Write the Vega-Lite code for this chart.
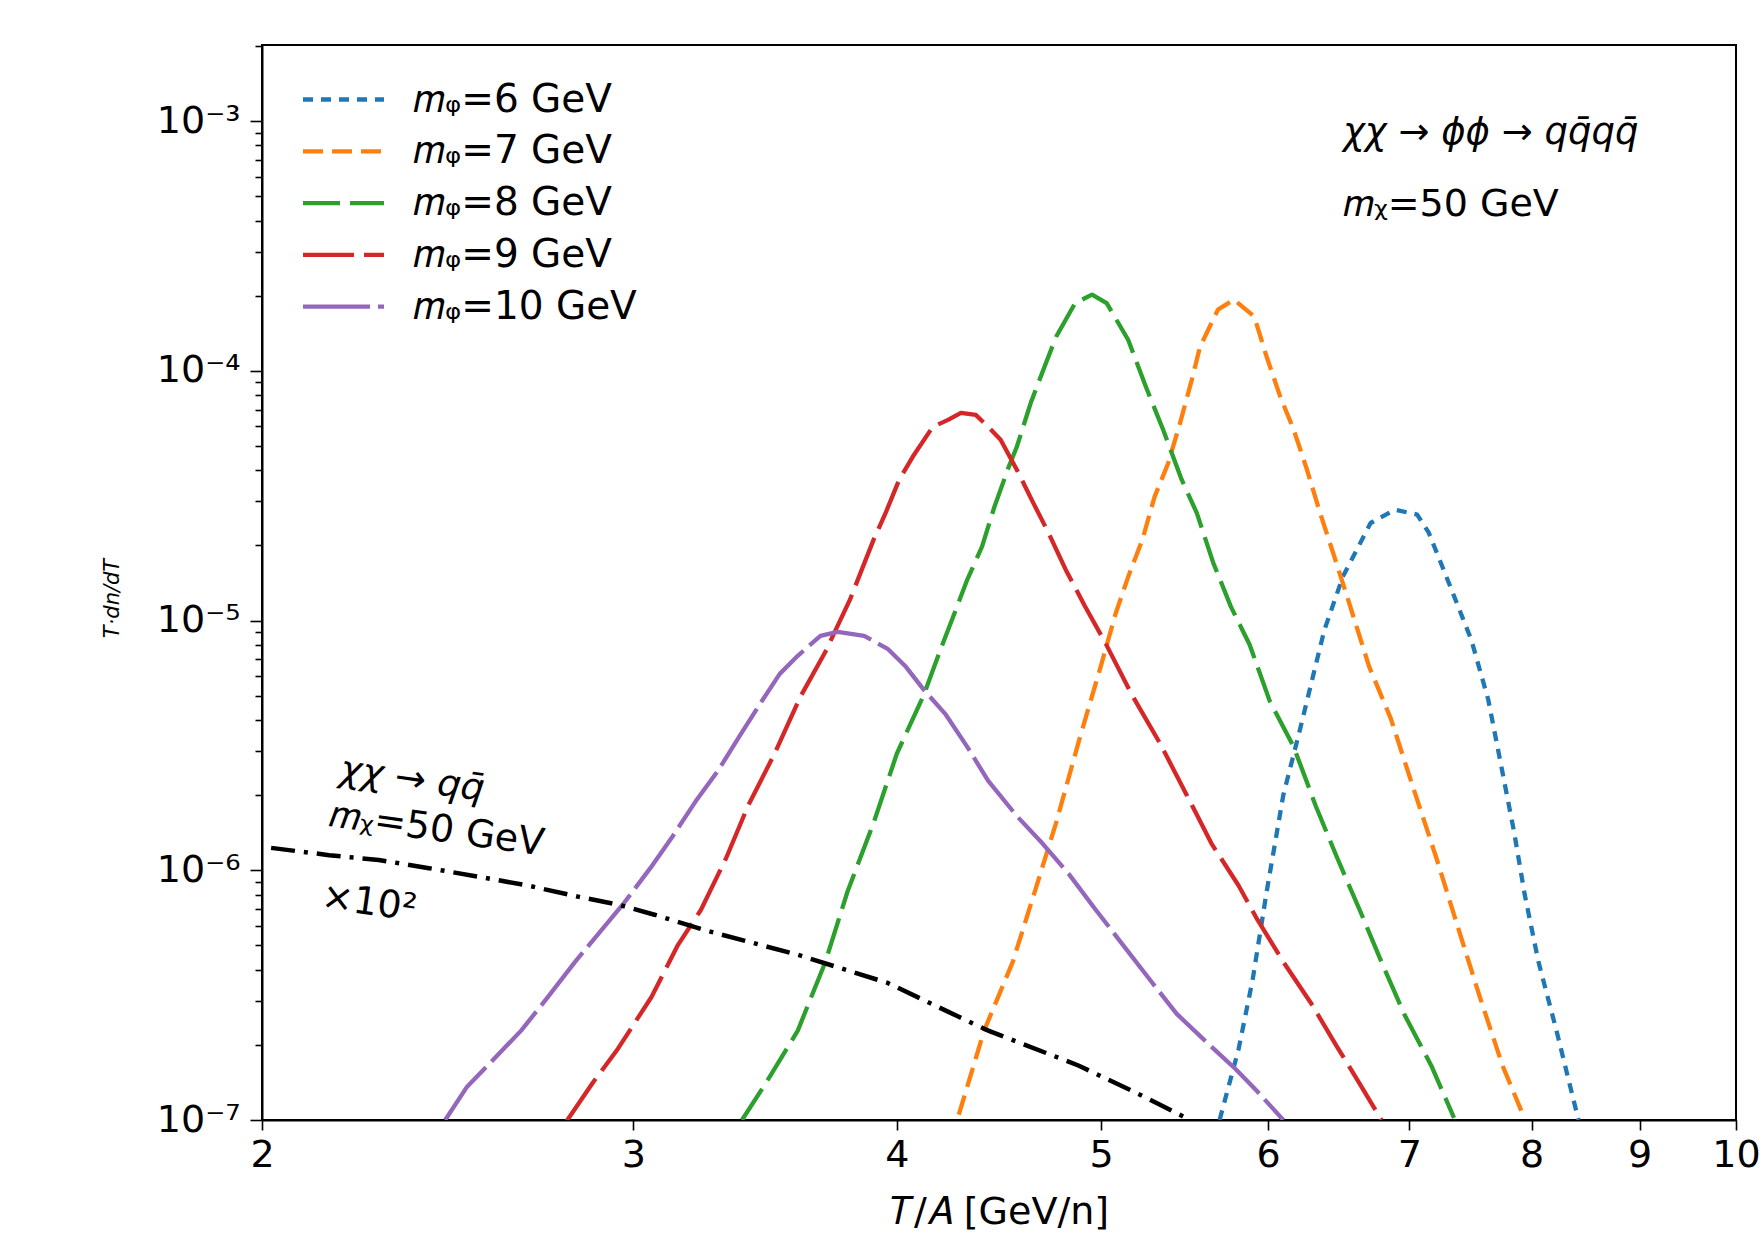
{
  "$schema": "https://vega.github.io/schema/vega-lite/v6.json",
  "width": 1474,
  "height": 1075,
  "autosize": "none",
  "padding": {"left": 262, "top": 45, "right": 26, "bottom": 121},
  "background": "white",
  "config": {
    "font": "DejaVu Sans",
    "view": {"stroke": "black", "strokeWidth": 2},
    "axis": {"domainColor": "black", "domainWidth": 2, "tickColor": "black", "tickWidth": 1.6, "labelColor": "black", "titleColor": "black", "grid": false, "labelFont": "DejaVu Sans", "titleFont": "DejaVu Sans", "titleFontWeight": "normal"}
  },
  "datasets": {
    "curves": [
      {"series": "6", "T": 5.69, "v": 1.0e-7}, {"series": "6", "T": 5.81, "v": 1.93e-7}, {"series": "6", "T": 5.90, "v": 3.67e-7}, {"series": "6", "T": 5.99, "v": 8.2e-7}, {"series": "6", "T": 6.10, "v": 2.0e-6}, {"series": "6", "T": 6.21, "v": 3.62e-6}, {"series": "6", "T": 6.29, "v": 5.64e-6}, {"series": "6", "T": 6.38, "v": 9.18e-6}, {"series": "6", "T": 6.51, "v": 1.5e-5}, {"series": "6", "T": 6.71, "v": 2.46e-5}, {"series": "6", "T": 6.89, "v": 2.78e-5}, {"series": "6", "T": 7.06, "v": 2.66e-5}, {"series": "6", "T": 7.15, "v": 2.25e-5}, {"series": "6", "T": 7.32, "v": 1.37e-5}, {"series": "6", "T": 7.49, "v": 8.38e-6}, {"series": "6", "T": 7.63, "v": 4.82e-6}, {"series": "6", "T": 7.74, "v": 2.6e-6}, {"series": "6", "T": 7.85, "v": 1.41e-6}, {"series": "6", "T": 7.94, "v": 7.98e-7}, {"series": "6", "T": 8.06, "v": 4.3e-7}, {"series": "6", "T": 8.22, "v": 2.28e-7}, {"series": "6", "T": 8.42, "v": 1.0e-7},
      {"series": "7", "T": 4.28, "v": 1.05e-7}, {"series": "7", "T": 4.40, "v": 2.28e-7}, {"series": "7", "T": 4.54, "v": 4.3e-7}, {"series": "7", "T": 4.65, "v": 8.2e-7}, {"series": "7", "T": 4.76, "v": 1.55e-6}, {"series": "7", "T": 4.88, "v": 3.3e-6}, {"series": "7", "T": 5.00, "v": 6.65e-6}, {"series": "7", "T": 5.08, "v": 1.07e-5}, {"series": "7", "T": 5.15, "v": 1.5e-5}, {"series": "7", "T": 5.23, "v": 2.11e-5}, {"series": "7", "T": 5.30, "v": 3.13e-5}, {"series": "7", "T": 5.38, "v": 4.28e-5}, {"series": "7", "T": 5.45, "v": 6.2e-5}, {"series": "7", "T": 5.52, "v": 9.21e-5}, {"series": "7", "T": 5.57, "v": 1.25e-4}, {"series": "7", "T": 5.68, "v": 1.76e-4}, {"series": "7", "T": 5.78, "v": 1.93e-4}, {"series": "7", "T": 5.91, "v": 1.65e-4}, {"series": "7", "T": 5.99, "v": 1.14e-4}, {"series": "7", "T": 6.08, "v": 7.87e-5}, {"series": "7", "T": 6.17, "v": 5.81e-5}, {"series": "7", "T": 6.26, "v": 4.02e-5}, {"series": "7", "T": 6.35, "v": 2.7e-5}, {"series": "7", "T": 6.45, "v": 1.8e-5}, {"series": "7", "T": 6.54, "v": 1.25e-5}, {"series": "7", "T": 6.70, "v": 6.53e-6}, {"series": "7", "T": 6.86, "v": 4.05e-6}, {"series": "7", "T": 7.03, "v": 2.14e-6}, {"series": "7", "T": 7.21, "v": 1.12e-6}, {"series": "7", "T": 7.38, "v": 5.94e-7}, {"series": "7", "T": 7.56, "v": 3.11e-7}, {"series": "7", "T": 7.75, "v": 1.65e-7}, {"series": "7", "T": 7.91, "v": 1.09e-7},
      {"series": "8", "T": 3.378, "v": 1.0e-7}, {"series": "8", "T": 3.468, "v": 1.41e-7}, {"series": "8", "T": 3.59, "v": 2.28e-7}, {"series": "8", "T": 3.70, "v": 4.3e-7}, {"series": "8", "T": 3.79, "v": 8.2e-7}, {"series": "8", "T": 3.90, "v": 1.55e-6}, {"series": "8", "T": 4.00, "v": 2.93e-6}, {"series": "8", "T": 4.12, "v": 5.05e-6}, {"series": "8", "T": 4.20, "v": 7.85e-6}, {"series": "8", "T": 4.26, "v": 1.07e-5}, {"series": "8", "T": 4.32, "v": 1.46e-5}, {"series": "8", "T": 4.39, "v": 1.98e-5}, {"series": "8", "T": 4.45, "v": 2.86e-5}, {"series": "8", "T": 4.52, "v": 4.13e-5}, {"series": "8", "T": 4.56, "v": 4.97e-5}, {"series": "8", "T": 4.63, "v": 7.45e-5}, {"series": "8", "T": 4.70, "v": 1.04e-4}, {"series": "8", "T": 4.76, "v": 1.37e-4}, {"series": "8", "T": 4.86, "v": 1.87e-4}, {"series": "8", "T": 4.95, "v": 2.02e-4}, {"series": "8", "T": 5.03, "v": 1.87e-4}, {"series": "8", "T": 5.15, "v": 1.33e-4}, {"series": "8", "T": 5.25, "v": 8.64e-5}, {"series": "8", "T": 5.35, "v": 5.81e-5}, {"series": "8", "T": 5.46, "v": 3.66e-5}, {"series": "8", "T": 5.55, "v": 2.7e-5}, {"series": "8", "T": 5.65, "v": 1.71e-5}, {"series": "8", "T": 5.76, "v": 1.14e-5}, {"series": "8", "T": 5.88, "v": 8.0e-6}, {"series": "8", "T": 6.01, "v": 4.77e-6}, {"series": "8", "T": 6.17, "v": 3.12e-6}, {"series": "8", "T": 6.32, "v": 1.81e-6}, {"series": "8", "T": 6.47, "v": 1.12e-6}, {"series": "8", "T": 6.63, "v": 6.95e-7}, {"series": "8", "T": 6.79, "v": 4.3e-7}, {"series": "8", "T": 6.96, "v": 2.66e-7}, {"series": "8", "T": 7.17, "v": 1.65e-7}, {"series": "8", "T": 7.35, "v": 1.02e-7},
      {"series": "9", "T": 2.79, "v": 9.93e-8}, {"series": "9", "T": 2.87, "v": 1.41e-7}, {"series": "9", "T": 2.95, "v": 1.93e-7}, {"series": "9", "T": 3.06, "v": 3.11e-7}, {"series": "9", "T": 3.15, "v": 5.03e-7}, {"series": "9", "T": 3.23, "v": 6.95e-7}, {"series": "9", "T": 3.32, "v": 1.12e-6}, {"series": "9", "T": 3.40, "v": 1.81e-6}, {"series": "9", "T": 3.50, "v": 2.93e-6}, {"series": "9", "T": 3.60, "v": 4.95e-6}, {"series": "9", "T": 3.70, "v": 7.5e-6}, {"series": "9", "T": 3.80, "v": 1.21e-5}, {"series": "9", "T": 3.90, "v": 2.11e-5}, {"series": "9", "T": 3.95, "v": 2.68e-5}, {"series": "9", "T": 4.01, "v": 3.66e-5}, {"series": "9", "T": 4.07, "v": 4.53e-5}, {"series": "9", "T": 4.16, "v": 5.97e-5}, {"series": "9", "T": 4.23, "v": 6.37e-5}, {"series": "9", "T": 4.29, "v": 6.79e-5}, {"series": "9", "T": 4.36, "v": 6.67e-5}, {"series": "9", "T": 4.42, "v": 5.97e-5}, {"series": "9", "T": 4.48, "v": 5.3e-5}, {"series": "9", "T": 4.56, "v": 4.02e-5}, {"series": "9", "T": 4.64, "v": 2.99e-5}, {"series": "9", "T": 4.72, "v": 2.25e-5}, {"series": "9", "T": 4.81, "v": 1.6e-5}, {"series": "9", "T": 4.91, "v": 1.15e-5}, {"series": "9", "T": 5.02, "v": 8.22e-6}, {"series": "9", "T": 5.17, "v": 5.05e-6}, {"series": "9", "T": 5.33, "v": 3.24e-6}, {"series": "9", "T": 5.49, "v": 2.0e-6}, {"series": "9", "T": 5.64, "v": 1.28e-6}, {"series": "9", "T": 5.81, "v": 8.67e-7}, {"series": "9", "T": 5.93, "v": 6.34e-7}, {"series": "9", "T": 6.10, "v": 4.3e-7}, {"series": "9", "T": 6.29, "v": 2.92e-7}, {"series": "9", "T": 6.47, "v": 1.96e-7}, {"series": "9", "T": 6.63, "v": 1.40e-7}, {"series": "9", "T": 6.79, "v": 1.0e-7},
      {"series": "10", "T": 2.443, "v": 1.0e-7}, {"series": "10", "T": 2.502, "v": 1.36e-7}, {"series": "10", "T": 2.577, "v": 1.76e-7}, {"series": "10", "T": 2.654, "v": 2.28e-7}, {"series": "10", "T": 2.733, "v": 3.11e-7}, {"series": "10", "T": 2.815, "v": 4.3e-7}, {"series": "10", "T": 2.896, "v": 5.73e-7}, {"series": "10", "T": 2.970, "v": 7.41e-7}, {"series": "10", "T": 3.056, "v": 1.02e-6}, {"series": "10", "T": 3.13, "v": 1.36e-6}, {"series": "10", "T": 3.21, "v": 1.88e-6}, {"series": "10", "T": 3.29, "v": 2.5e-6}, {"series": "10", "T": 3.37, "v": 3.46e-6}, {"series": "10", "T": 3.45, "v": 4.73e-6}, {"series": "10", "T": 3.52, "v": 6.12e-6}, {"series": "10", "T": 3.59, "v": 7.23e-6}, {"series": "10", "T": 3.68, "v": 8.69e-6}, {"series": "10", "T": 3.75, "v": 9.02e-6}, {"series": "10", "T": 3.86, "v": 8.69e-6}, {"series": "10", "T": 3.96, "v": 7.71e-6}, {"series": "10", "T": 4.04, "v": 6.53e-6}, {"series": "10", "T": 4.12, "v": 5.28e-6}, {"series": "10", "T": 4.22, "v": 4.2e-6}, {"series": "10", "T": 4.32, "v": 3.12e-6}, {"series": "10", "T": 4.42, "v": 2.28e-6}, {"series": "10", "T": 4.56, "v": 1.65e-6}, {"series": "10", "T": 4.69, "v": 1.28e-6}, {"series": "10", "T": 4.83, "v": 9.59e-7}, {"series": "10", "T": 4.97, "v": 6.95e-7}, {"series": "10", "T": 5.12, "v": 5.03e-7}, {"series": "10", "T": 5.27, "v": 3.67e-7}, {"series": "10", "T": 5.43, "v": 2.66e-7}, {"series": "10", "T": 5.62, "v": 2.02e-7}, {"series": "10", "T": 5.79, "v": 1.6e-7}, {"series": "10", "T": 5.93, "v": 1.3e-7}, {"series": "10", "T": 6.10, "v": 1.0e-7}
    ],
    "direct": [
      {"T": 2.02, "v": 1.23e-6}, {"T": 2.152, "v": 1.15e-6}, {"T": 2.272, "v": 1.10e-6}, {"T": 2.40, "v": 1.02e-6}, {"T": 2.535, "v": 9.42e-7}, {"T": 2.677, "v": 8.67e-7}, {"T": 2.827, "v": 7.83e-7}, {"T": 2.952, "v": 7.28e-7}, {"T": 3.07, "v": 6.64e-7}, {"T": 3.25, "v": 5.73e-7}, {"T": 3.59, "v": 4.59e-7}, {"T": 3.96, "v": 3.54e-7}, {"T": 4.28, "v": 2.59e-7}, {"T": 4.42, "v": 2.28e-7}, {"T": 4.88, "v": 1.65e-7}, {"T": 5.24, "v": 1.24e-7}, {"T": 5.51, "v": 1.0e-7}
    ]
  },
  "layer": [
    {
      "data": {"name": "curves"},
      "mark": {"type": "line", "clip": true, "strokeWidth": 4.3, "strokeCap": "butt", "strokeJoin": "round"},
      "encoding": {
        "x": {"field": "T", "type": "quantitative", "scale": {"type": "log", "domain": [2, 10], "nice": false},
          "axis": {"values": [2, 3, 4, 5, 6, 7, 8, 9, 10], "format": "d", "labelFontSize": 38, "tickSize": 10, "labelPadding": 6, "labelFlush": false, "labelOverlap": false,
            "title": "𝑇/𝐴 [GeV/n]", "titleFontSize": 38, "titleY": 103, "titleBaseline": "alphabetic"}},
        "y": {"field": "v", "type": "quantitative", "scale": {"type": "log", "domain": [1e-7, 2.02e-3], "nice": false},
          "axis": {"values": [1e-7, 2e-7, 3e-7, 4e-7, 5e-7, 6e-7, 7e-7, 8e-7, 9e-7, 1e-6, 2e-6, 3e-6, 4e-6, 5e-6, 6e-6, 7e-6, 8e-6, 9e-6, 1e-5, 2e-5, 3e-5, 4e-5, 5e-5, 6e-5, 7e-5, 8e-5, 9e-5, 1e-4, 2e-4, 3e-4, 4e-4, 5e-4, 6e-4, 7e-4, 8e-4, 9e-4, 1e-3, 2e-3],
            "labelExpr": "abs(log(datum.value)/LN10 - round(log(datum.value)/LN10)) < 0.001 ? '10⁻' + ['⁰','¹','²','³','⁴','⁵','⁶','⁷','⁸'][-round(log(datum.value)/LN10)] : ''",
            "tickSize": {"condition": {"test": "abs(log(datum.value)/LN10 - round(log(datum.value)/LN10)) < 0.001", "value": 12}, "value": 7},
            "labelFontSize": 38, "labelPadding": 10, "labelOverlap": false, "labelFlush": false, "labelBaseline": "middle",
            "title": "T·dn/dT", "titleFontSize": 21, "titleFontStyle": "italic", "titleX": -150, "titleY": 553, "titleAngle": 270, "titleAlign": "center", "titleBaseline": "middle"}},
        "color": {"field": "series", "type": "nominal",
          "scale": {"domain": ["6", "7", "8", "9", "10"], "range": ["#1f77b4", "#ff7f0e", "#2ca02c", "#d62728", "#9467bd"]},
          "legend": {"orient": "none", "legendX": 59, "legendY": 32, "title": null, "padding": 0,
            "symbolType": "M-2,0L2,0", "symbolSize": 1640, "symbolStrokeWidth": 4.3, "labelFontSize": 39, "labelOffset": 47, "rowPadding": 8.8, "labelLimit": 0,
            "labelExpr": "'𝑚ᵩ=' + datum.label + ' GeV'", "labelColor": "black", "labelFont": "DejaVu Sans"}},
        "strokeDash": {"field": "series", "type": "nominal",
          "scale": {"domain": ["6", "7", "8", "9", "10"], "range": [[10, 8], [20, 9], [37, 10], [51, 10], [67, 8]]}}
      }
    },
    {
      "data": {"name": "direct"},
      "mark": {"type": "line", "clip": true, "color": "black", "strokeWidth": 4.5, "strokeDash": [24, 9, 4, 9], "strokeCap": "butt"},
      "encoding": {
        "x": {"field": "T", "type": "quantitative"},
        "y": {"field": "v", "type": "quantitative"}
      }
    },
    {
      "data": {"values": [{"T": 6.51, "v": 8.98e-4, "note": "χχ → ϕϕ → qq̄qq̄"}]},
      "mark": {"type": "text", "align": "left", "baseline": "middle", "fontSize": 37, "fontStyle": "italic", "font": "DejaVu Sans", "color": "black"},
      "encoding": {"x": {"field": "T", "type": "quantitative"}, "y": {"field": "v", "type": "quantitative"}, "text": {"field": "note"}}
    },
    {
      "data": {"values": [{"T": 6.51, "v": 4.62e-4, "note": "𝑚ᵪ=50 GeV"}]},
      "mark": {"type": "text", "align": "left", "baseline": "middle", "fontSize": 38, "font": "DejaVu Sans", "color": "black"},
      "encoding": {"x": {"field": "T", "type": "quantitative"}, "y": {"field": "v", "type": "quantitative"}, "text": {"field": "note"}}
    },
    {
      "data": {"values": [{"T": 2.178, "v": 2.53e-6, "note": "χχ → qq̄"}]},
      "mark": {"type": "text", "align": "left", "baseline": "middle", "angle": 8, "fontSize": 37, "fontStyle": "italic", "font": "DejaVu Sans", "color": "black"},
      "encoding": {"x": {"field": "T", "type": "quantitative"}, "y": {"field": "v", "type": "quantitative"}, "text": {"field": "note"}}
    },
    {
      "data": {"values": [{"T": 2.154, "v": 1.67e-6, "note": "𝑚ᵪ=50 GeV"}, {"T": 2.135, "v": 7.83e-7, "note": "×10²"}]},
      "mark": {"type": "text", "align": "left", "baseline": "middle", "angle": 8, "fontSize": 38, "font": "DejaVu Sans", "color": "black"},
      "encoding": {"x": {"field": "T", "type": "quantitative"}, "y": {"field": "v", "type": "quantitative"}, "text": {"field": "note"}}
    }
  ]
}
